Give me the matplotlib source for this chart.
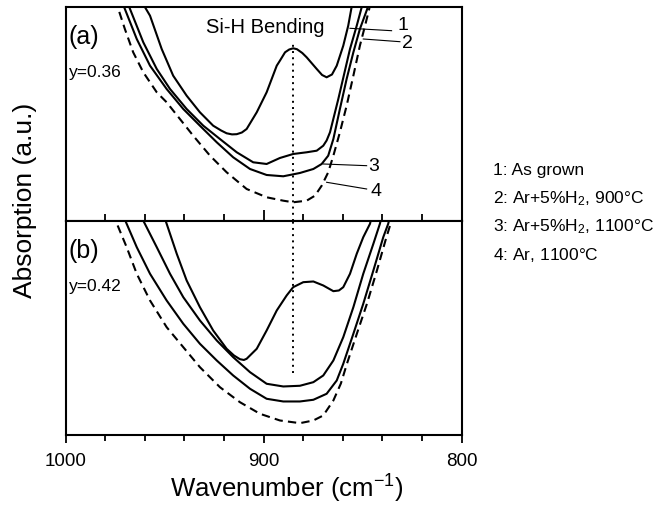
import matplotlib
matplotlib.use('Agg')
from matplotlib import pyplot as plt
from matplotlib.ticker import MultipleLocator

plt.rcParams['font.family'] = ['Liberation Sans', 'DejaVu Sans']
plt.rcParams['mathtext.fontset'] = 'custom'
plt.rcParams['mathtext.rm'] = 'Liberation Sans'
plt.rcParams['mathtext.it'] = 'Liberation Sans:italic'

# ---- panel (a): y = 0.36 ----
wn_a1 = [962.5, 960.0, 957.4, 951.5, 945.7, 938.9, 932.2, 925.5, 921.5, 918.7, 916.0, 913.6, 911.0,
         908.6, 903.5, 898.5, 893.4, 891.8, 889.2, 887.1, 885.1, 883.2, 880.5, 878.3, 873.2,
         870.5, 868.2, 865.5, 863.1, 859.8, 857.3, 855.6, 854.8]
ab_a1 = [222, 214, 205.3, 172, 145.3, 125.3, 108.7, 95.3, 90.5, 87.7, 86.6, 86.8, 88.5,
         92, 108.7, 128.7, 155.3, 160.3, 168.7, 171.5, 172.7, 171.8, 168, 163.7, 152,
         146, 143.7, 146.5, 155.3, 175.3, 195.3, 213.7, 222]

wn_a2 = [969.5, 967.5, 960.8, 954.0, 947.3, 938.9, 930.5, 922.1, 913.6, 905.3, 898.5, 891.8,
         885.1, 878.3, 873.2, 869.9, 868.2, 866.5, 862.3, 856.4, 853.0, 850.5, 849.8]
ab_a2 = [222, 212, 178.7, 152, 132, 112, 95.3, 82, 68.7, 58.7, 57, 63,
         67, 68.7, 70.3, 75.3, 80.5, 88.7, 122, 172, 195.3, 213.7, 222]

wn_a3 = [972.0, 970.1, 964.1, 957.4, 949.0, 940.6, 932.2, 923.7, 915.4, 906.9, 898.5, 890.1,
         881.7, 874.9, 870.7, 867.4, 864.8, 861.5, 858.1, 854.7, 851.4, 847.7, 846.8]
ab_a3 = [222, 212, 182, 155.3, 132, 112, 95.3, 78.7, 63.7, 52, 46, 44.7,
         48, 52, 57, 65.3, 82, 112, 142, 168.7, 192, 212, 222]

wn_a4 = [975.0, 973.4, 970.1, 965.9, 960.8, 954.0, 949.0, 942.3, 935.6, 927.1, 918.7, 908.6,
         898.5, 890.1, 885.1, 878.3, 874.1, 870.7, 867.4, 864.8, 861.5, 858.1, 854.7, 851.4,
         848.8, 846.7, 845.8]
ab_a4 = [222, 212, 192, 168.7, 148.7, 128.7, 118.7, 102, 85.3, 65.3, 48.7, 32,
         23.7, 20.3, 18.7, 20.3, 25.3, 35.3, 48.7, 65.3, 88.7, 115.3, 145.3, 175.3,
         195.3, 212, 222]

# ---- panel (b): y = 0.42 ----
wn_b1 = [950.8, 949.0, 943.9, 938.9, 932.2, 925.5, 918.7, 915.0, 912.0, 910.0, 908.6, 903.5,
         898.5, 893.4, 888.4, 885.1, 880.0, 874.9, 869.9, 864.8, 862.0, 859.8, 856.4, 853.0,
         849.7, 846.3, 845.0]
ab_b1 = [222, 211.2, 181.2, 154.5, 127.8, 104.5, 86.2, 79.5, 75.8, 75.0, 76.2, 86.2,
         104.5, 124.5, 139.5, 147.8, 152.8, 153.5, 149.5, 143.8, 144.5, 147.8, 161.2, 181.2,
         197.8, 211.2, 222]

wn_b2 = [962.8, 960.0, 954.0, 947.3, 940.6, 932.2, 923.7, 915.4, 906.9, 898.5, 890.1, 881.7,
         874.9, 869.9, 864.8, 859.8, 854.7, 849.7, 844.6, 841.3, 840.0]
ab_b2 = [222, 211.2, 187.8, 161.2, 137.8, 114.5, 94.5, 77.8, 62.8, 51.2, 48.5, 49.2,
         52.8, 59.5, 74.5, 97.8, 127.8, 161.2, 191.2, 211.2, 222]

wn_b3 = [971.5, 969.2, 964.1, 957.4, 949.0, 940.6, 932.2, 923.7, 915.4, 906.9, 898.5, 890.1,
         881.7, 874.9, 868.2, 863.1, 859.8, 854.7, 849.7, 844.6, 839.6, 837.1, 835.8]
ab_b3 = [222, 211.2, 187.8, 161.2, 134.5, 111.2, 91.2, 74.5, 59.5, 46.2, 36.2, 33.5,
         33.5, 35.2, 41.2, 54.5, 71.2, 101.2, 131.2, 164.5, 197.8, 211.2, 222]

wn_b4 = [976.4, 973.4, 969.2, 964.1, 957.4, 949.0, 940.6, 932.2, 922.1, 912.0, 901.9, 891.8,
         881.7, 874.9, 869.9, 864.8, 861.0, 857.9, 852.9, 847.8, 842.8, 838.2, 835.7, 834.8]
ab_b4 = [222, 207.8, 187.8, 161.2, 134.5, 107.8, 87.8, 67.8, 47.8, 32.8, 21.2, 14.5,
         11.8, 14.5, 19.5, 34.5, 51.5, 71.5, 101.5, 131.5, 164.5, 196.5, 212.5, 222]

si_h_wn = 885
legend_lines = ['1: As grown',
                '2: Ar+5%H$_2$, 900$\\degree$C',
                '3: Ar+5%H$_2$, 1100$\\degree$C',
                '4: Ar, 1100$\\degree$C']

lw = 1.5
dash = (4, 2.5)

fig = plt.figure(figsize=(6.66, 5.06), dpi=100)
axa = fig.add_axes([0.0986, 0.5613, 0.5946, 0.4229])
axb = fig.add_axes([0.0986, 0.1384, 0.5946, 0.4229])

for ax, curves in [(axa, [(wn_a1, ab_a1), (wn_a2, ab_a2), (wn_a3, ab_a3), (wn_a4, ab_a4)]),
                   (axb, [(wn_b1, ab_b1), (wn_b2, ab_b2), (wn_b3, ab_b3), (wn_b4, ab_b4)])]:
    for k, (w, a) in enumerate(curves):
        if k == 3:
            ax.plot(w, a, color='k', lw=lw, dashes=dash)
        else:
            ax.plot(w, a, color='k', lw=lw, solid_joinstyle='round')
    ax.set_xlim(1000, 800)
    ax.set_ylim(0, 214)
    ax.set_yticks([])
    ax.xaxis.set_major_locator(MultipleLocator(100))
    ax.xaxis.set_minor_locator(MultipleLocator(20))
    for s in ax.spines.values():
        s.set_linewidth(1.5)

# dotted Si-H marker
axa.plot([si_h_wn, si_h_wn], [0, 177], color='k', lw=1.4, dashes=(1, 2.2))
axb.plot([si_h_wn, si_h_wn], [62, 214], color='k', lw=1.4, dashes=(1, 2.2))

axa.tick_params(axis='x', which='both', direction='in', labelbottom=False, width=1.3)
axa.tick_params(axis='x', which='major', length=8)
axa.tick_params(axis='x', which='minor', length=5)
axb.tick_params(axis='x', which='both', direction='out', width=1.3, labelsize=13.5, pad=6.5)
axb.tick_params(axis='x', which='major', length=6)
axb.tick_params(axis='x', which='minor', length=4)

# panel annotations
axa.text(0.008, 0.864, '(a)', transform=axa.transAxes, fontsize=18, va='center', ha='left')
axa.text(0.008, 0.70, 'y=0.36', transform=axa.transAxes, fontsize=12.5, va='center', ha='left')
axb.text(0.008, 0.864, '(b)', transform=axb.transAxes, fontsize=18, va='center', ha='left')
axb.text(0.008, 0.70, 'y=0.42', transform=axb.transAxes, fontsize=12.5, va='center', ha='left')
axa.text(0.503, 0.907, 'Si-H Bending', transform=axa.transAxes, fontsize=14.5, va='center', ha='center')

# curve number leaders
axa.plot([856.4, 835.4], [192.7, 190.3], color='k', lw=0.8)
axa.plot([849.7, 831.2], [182, 179.3], color='k', lw=0.8)
axa.plot([869.9, 848.0], [57, 55.3], color='k', lw=0.8)
axa.plot([868.2, 848.0], [38.7, 32], color='k', lw=0.8)
axa.text(832.5, 196, '1', fontsize=14, va='center', ha='left')
axa.text(830.0, 178, '2', fontsize=14, va='center', ha='left')
axa.text(847.0, 55, '3', fontsize=14, va='center', ha='left')
axa.text(846.0, 30, '4', fontsize=14, va='center', ha='left')

# condition list
for i, t in enumerate(legend_lines):
    fig.text(493 / 666, 1 - (170 + 28.5 * i) / 506, t, fontsize=12.5, va='center', ha='left')

fig.text(25 / 666, 1 - 200 / 506, 'Absorption (a.u.)', rotation=90, fontsize=19,
         va='center', ha='center')
fig.text(287 / 666, 1 - 489 / 506, 'Wavenumber (cm$^{-1}$)', fontsize=18.5,
         va='center', ha='center')

fig.savefig('out.png', dpi=100)
